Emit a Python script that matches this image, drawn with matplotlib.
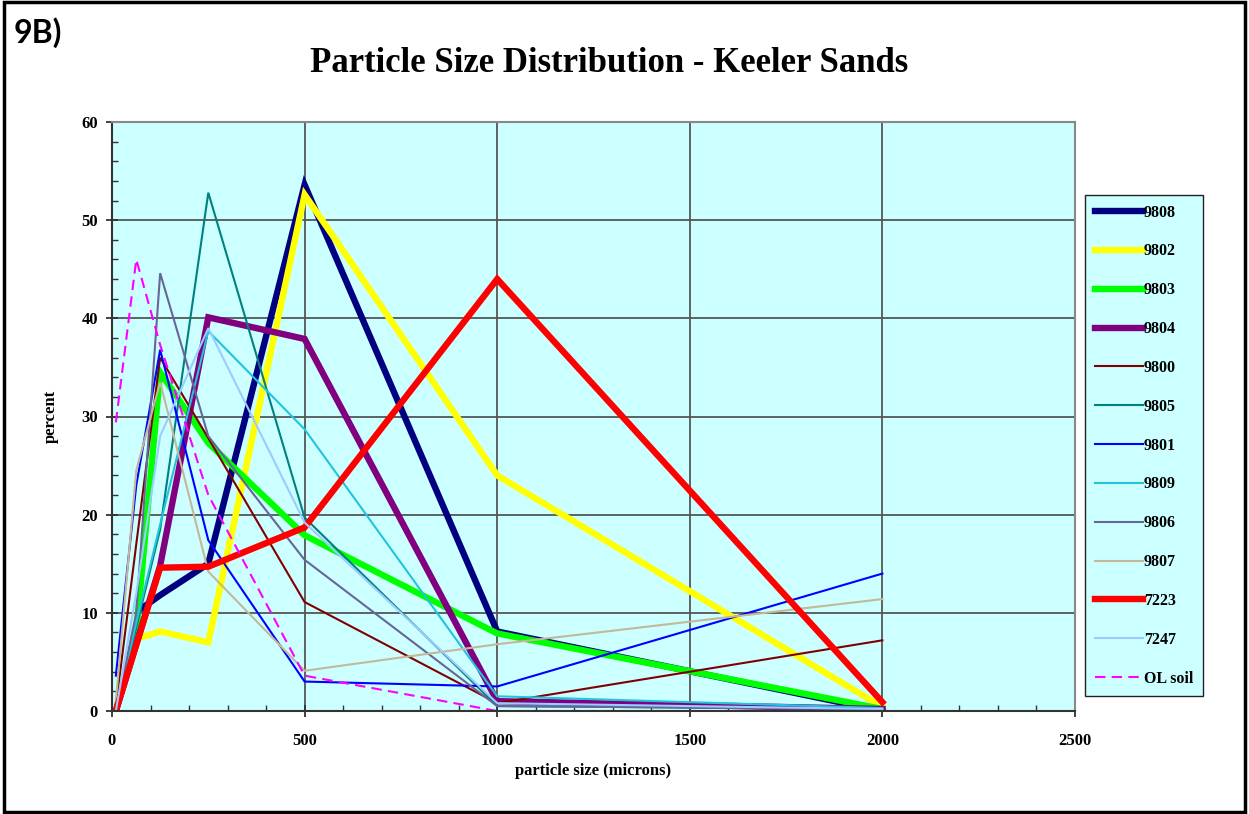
import matplotlib
matplotlib.use("Agg")
import matplotlib.pyplot as plt
from matplotlib.ticker import MultipleLocator
from matplotlib.patches import Rectangle

# particle size (microns) and percent retained
x_9808 = [75, 125, 250, 500, 1000, 2000]
y_9808 = [10.4, 11.8, 15.0, 53.6, 8.1, 0.0]
x_9802 = [75, 125, 250, 500, 1000, 2000]
y_9802 = [7.5, 8.1, 7.0, 52.6, 24.0, 0.4]
x_9803 = [10, 63, 125, 250, 500, 1000, 2000]
y_9803 = [0.0, 8.0, 34.5, 27.3, 17.9, 7.9, 0.2]
x_9804 = [10, 125, 250, 500, 1000, 2000]
y_9804 = [0.0, 14.8, 40.1, 37.9, 1.0, 0.2]
x_9800 = [10, 63, 125, 250, 500, 1000, 2000]
y_9800 = [0.5, 17.0, 36.0, 27.8, 11.1, 0.8, 7.2]
x_9805 = [10, 125, 250, 500, 1000, 2000]
y_9805 = [0.0, 18.5, 52.8, 19.7, 0.5, 0.2]
x_9801 = [10, 63, 125, 250, 500, 1000, 2000]
y_9801 = [3.6, 23.0, 36.8, 17.4, 3.0, 2.5, 14.0]
x_9809 = [10, 63, 125, 250, 500, 1000, 2000]
y_9809 = [0.0, 9.0, 19.0, 38.7, 28.7, 1.5, 0.3]
x_9806 = [10, 63, 125, 250, 500, 1000, 2000]
y_9806 = [0.0, 10.0, 44.6, 28.0, 15.4, 0.5, 0.2]
x_9807 = [10, 63, 125, 250, 500, 1000, 2000]
y_9807 = [1.0, 24.5, 33.5, 14.2, 4.1, 6.8, 11.4]
x_7223 = [10, 125, 250, 500, 1000, 2000]
y_7223 = [0.0, 14.6, 14.7, 18.7, 44.0, 0.9]
x_7247 = [10, 63, 125, 250, 500, 1000, 2000]
y_7247 = [0.0, 12.0, 28.0, 39.0, 19.2, 0.8, 0.2]
x_ol = [10, 63, 125, 250, 500, 1000, 2000]
y_ol = [29.4, 46.0, 37.3, 22.0, 3.6, 0.0, 0.0]

series = [
    ("9808", x_9808, y_9808, "#000080", 4.6, "-"),
    ("9802", x_9802, y_9802, "#FFFF00", 4.6, "-"),
    ("9803", x_9803, y_9803, "#00FF00", 4.6, "-"),
    ("9804", x_9804, y_9804, "#800080", 4.6, "-"),
    ("9800", x_9800, y_9800, "#800000", 1.5, "-"),
    ("9805", x_9805, y_9805, "#008080", 1.5, "-"),
    ("9801", x_9801, y_9801, "#0000FF", 1.5, "-"),
    ("9809", x_9809, y_9809, "#22C4DD", 1.5, "-"),
    ("9806", x_9806, y_9806, "#666699", 1.5, "-"),
    ("9807", x_9807, y_9807, "#C4B896", 1.5, "-"),
    ("7223", x_7223, y_7223, "#FF0000", 4.6, "-"),
    ("7247", x_7247, y_7247, "#99CCFF", 1.5, "-"),
    ("OL soil", x_ol, y_ol, "#FF00FF", 1.5, (0, (5, 3))),
]

serif = "Liberation Serif"

fig = plt.figure(figsize=(12.49, 8.14), dpi=100)
ax = fig.add_axes([112 / 1249, 1 - 711 / 814, (1075 - 112) / 1249, (711 - 122) / 814])
ax.set_facecolor("#CCFFFF")

for name, xs, ys, col, lw, ls in series:
    ax.plot(xs, ys, color=col, lw=lw, ls=ls, label=name, solid_joinstyle="miter")

ax.set_xlim(0, 2500)
ax.set_ylim(0, 60)
ax.xaxis.set_major_locator(MultipleLocator(500))
ax.xaxis.set_minor_locator(MultipleLocator(100))
ax.yaxis.set_major_locator(MultipleLocator(10))
ax.yaxis.set_minor_locator(MultipleLocator(2))
ax.grid(True, which="major", color="#555555", lw=1.3)
ax.set_axisbelow(True)
ax.tick_params(which="major", direction="inout", length=8, width=1.3, color="#333333")
ax.tick_params(which="minor", direction="in", length=4, width=1.0, color="#333333")
ax.tick_params(axis="x", which="both", top=False)
ax.tick_params(axis="y", which="both", right=False)
for lab in ax.get_xticklabels() + ax.get_yticklabels():
    lab.set_fontfamily(serif)
    lab.set_fontweight("bold")
    lab.set_fontsize(12)
ax.tick_params(axis="x", pad=12)
ax.tick_params(axis="y", pad=6)
for side in ["top", "right"]:
    ax.spines[side].set_color("#888888")
    ax.spines[side].set_linewidth(1.5)
for side in ["left", "bottom"]:
    ax.spines[side].set_color("#333333")
    ax.spines[side].set_linewidth(1.5)

ax.set_xlabel("particle size (microns)", fontfamily=serif, fontweight="bold", fontsize=12, labelpad=10)
ax.set_ylabel("percent", fontfamily=serif, fontweight="bold", fontsize=12, labelpad=16)

leg = ax.legend(loc="upper left", bbox_to_anchor=(1085 / 1249, 1 - 195 / 814),
                bbox_transform=fig.transFigure, borderaxespad=0, frameon=True,
                fancybox=False, facecolor="#CCFFFF", edgecolor="#222222",
                prop={"family": serif, "weight": "bold", "size": 11.5},
                handlelength=3.0, handletextpad=0.1, labelspacing=1.43,
                borderpad=0.6)
leg.get_frame().set_linewidth(1.0)
leg.get_frame().set_alpha(1)

fig.text(609 / 1249, 1 - 64 / 814, "Particle Size Distribution - Keeler Sands",
         ha="center", va="center", fontfamily=serif, fontweight="bold", fontsize=25)
fig.text(14 / 1249, 1 - 33 / 814, "9B)", ha="left", va="center",
         fontfamily="Lato", fontweight="bold", fontsize=23)

fig.add_artist(Rectangle((0.003, 0.003), 0.994, 0.994, transform=fig.transFigure,
                         fill=False, edgecolor="black", lw=2.5))

fig.savefig("out.png", dpi=100)
